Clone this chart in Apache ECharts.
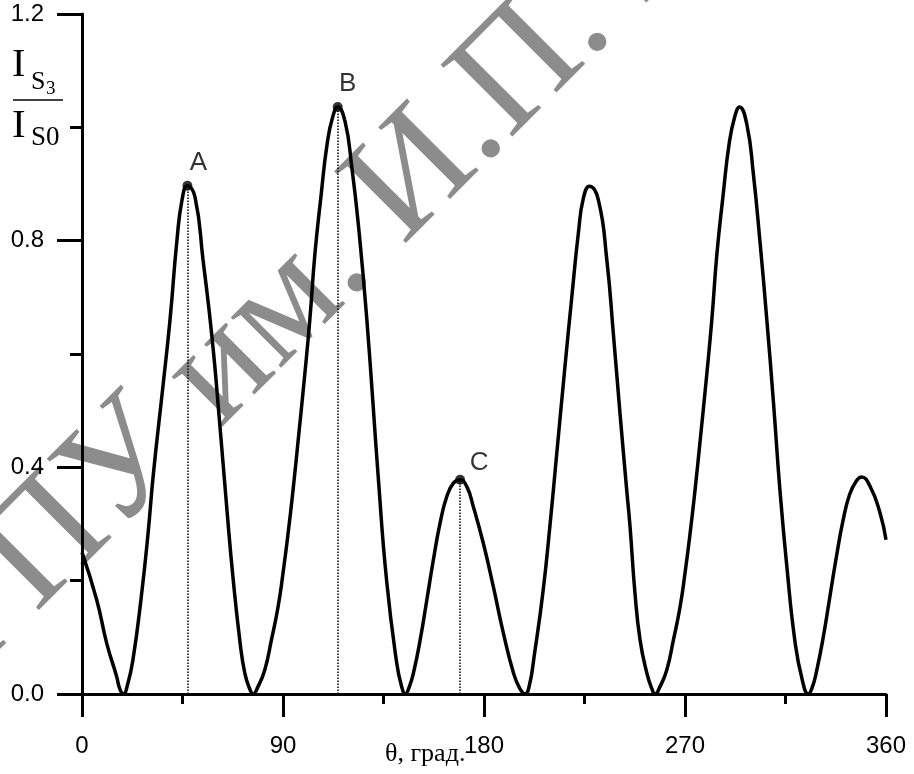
<!DOCTYPE html>
<html>
<head>
<meta charset="utf-8">
<script src="https://cdn.jsdelivr.net/npm/echarts@6/dist/echarts.min.js"></script>
<style>
  html, body { margin: 0; padding: 0; background: #fff; }
  #chart { width: 914px; height: 774px; }
</style>
</head>
<body>
<div id="chart"></div>
<script>
// angle θ (deg) and the ratio I_S3 / I_S0, one row per lobe
const theta = [
  0, 6.6, 11.1, 15.5, 17, 18.5,
  20.5, 22.8, 26.5, 29.5, 32, 36.3, 39.4, 42.5, 44.8, 47.2, 50.6, 54.2, 58.2, 61.8, 64.9, 67.6, 70.8, 72.9, 75, 76.6,
  78.8, 81.8, 84.8, 87.8, 90.0, 92.3, 94.5, 96.8, 99.5, 102, 104.3, 107, 109.8, 112.3, 114.5, 117.8, 120.8, 123.7, 127.5, 132.7, 136.4, 140.9, 143, 144.8,
  146.5, 148.4, 151.4, 154.4, 157.3, 160.3, 163.3, 166.3, 169.3, 172.3, 175.2, 179.7, 184.2, 188.7, 193.2, 196, 198.4,
  200.3, 202.4, 206.4, 209.6, 212, 216.3, 219.3, 222.3, 224.5, 227.2, 231.2, 235.0, 237.9, 240.9, 243.9, 245.4, 247.6, 249.9, 252.9, 255.1, 256.6,
  258.8, 261.8, 264.8, 267.8, 270.0, 272.3, 274.5, 276.8, 279.5, 282.0, 284.3, 287.0, 289.8, 292.3, 294.4, 297.7, 300.6, 303.6, 306.6, 309.6, 312.5, 315.6, 319.3, 322.5, 325.2,
  327, 328.9, 331.8, 334.8, 337.7, 340.7, 343.7, 346.7, 349.0, 352.8, 357.3, 360
]
const ratio = [
  0.25, 0.166, 0.089, 0.031, 0.008, 0,
  0.018, 0.06, 0.17, 0.28, 0.39, 0.545, 0.66, 0.80, 0.872, 0.897, 0.877, 0.766, 0.630, 0.471, 0.325, 0.206, 0.090, 0.037, 0.01, 0,
  0.013, 0.042, 0.095, 0.154, 0.213, 0.284, 0.360, 0.448, 0.554, 0.66, 0.777, 0.878, 0.972, 1.019, 1.036, 1.01, 0.93, 0.83, 0.663, 0.38, 0.2, 0.055, 0.015, 0,
  0.012, 0.037, 0.095, 0.166, 0.236, 0.301, 0.348, 0.372, 0.378, 0.366, 0.331, 0.266, 0.189, 0.107, 0.037, 0.01, 0,
  0.015, 0.065, 0.18, 0.30, 0.40, 0.58, 0.70, 0.815, 0.875, 0.896, 0.872, 0.766, 0.637, 0.495, 0.36, 0.295, 0.178, 0.095, 0.037, 0.010, 0,
  0.013, 0.042, 0.095, 0.154, 0.213, 0.284, 0.360, 0.448, 0.554, 0.66, 0.777, 0.878, 0.972, 1.019, 1.036, 1.005, 0.918, 0.797, 0.662, 0.515, 0.360, 0.225, 0.091, 0.025, 0,
  0.012, 0.04, 0.098, 0.17, 0.24, 0.305, 0.352, 0.376, 0.383, 0.367, 0.32, 0.272
]

// marked points
const peakNames = ['A', 'B', 'C']
const peakTheta = [47.2, 114.5, 169.3]
const peakRatio = [0.897, 1.036, 0.378]

const xTicks = [0, 90, 180, 270, 360]
const yTicks = [0.0, 0.4, 0.8, 1.2]

const chart = echarts.init(document.getElementById('chart'))

const sans = '"Liberation Sans", Arial, sans-serif'
const serif = '"Liberation Serif", "Times New Roman", serif'

const peakLabelOffset = [[11, 0], [10, 0], [19, 6]]

chart.setOption({
  animation: false,
  backgroundColor: '#fff',
  grid: { left: 82, right: 28, top: 14, bottom: 80, containLabel: false, outerBoundsMode: 'none' },
  xAxis: {
    type: 'value',
    min: xTicks[0],
    max: xTicks[xTicks.length - 1],
    interval: 90,
    axisLine: { lineStyle: { color: '#000', width: 3 } },
    axisTick: { length: 23, lineStyle: { color: '#000', width: 3 } },
    minorTick: { show: true, splitNumber: 2, length: 10, lineStyle: { color: '#000', width: 3 } },
    splitLine: { show: false },
    axisLabel: { margin: 40, color: '#000', fontSize: 24, fontFamily: sans },
  },
  yAxis: {
    type: 'value',
    min: yTicks[0],
    max: yTicks[yTicks.length - 1],
    interval: 0.4,
    axisLine: { lineStyle: { color: '#000', width: 3 } },
    axisTick: { length: 25, lineStyle: { color: '#000', width: 3 } },
    minorTick: { show: true, splitNumber: 2, length: 12, lineStyle: { color: '#000', width: 3 } },
    splitLine: { show: false },
    axisLabel: { margin: 38, color: '#000', fontSize: 24, fontFamily: sans, formatter: v => v.toFixed(1) },
  },
  graphic: [
    // scanned library watermark
    {
      type: 'text', x: -99, y: 800, rotation: Math.PI / 4, z: -10, silent: true,
      style: { text: 'МГПУ им. И.П. Шамякина', font: '155px ' + serif, fill: '#8c8c8c', textAlign: 'left', textVerticalAlign: 'bottom' },
    },
    // y axis title: I_S3 / I_S0
    { type: 'text', x: 12, y: 65, style: { text: 'I', font: '40px ' + serif, fill: '#000', textVerticalAlign: 'middle' } },
    { type: 'text', x: 31, y: 82, style: { text: 'S', font: '26px ' + serif, fill: '#000', textVerticalAlign: 'middle' } },
    { type: 'text', x: 46, y: 89, style: { text: '3', font: '19px ' + serif, fill: '#000', textVerticalAlign: 'middle' } },
    { type: 'line', shape: { x1: 13, y1: 100, x2: 63, y2: 100 }, style: { stroke: '#000', lineWidth: 1.5 } },
    { type: 'text', x: 12, y: 126, style: { text: 'I', font: '41px ' + serif, fill: '#000', textVerticalAlign: 'middle' } },
    { type: 'text', x: 31, y: 138, style: { text: 'S0', font: '27px ' + serif, fill: '#000', textVerticalAlign: 'middle' } },
    // x axis title
    { type: 'text', x: 385, y: 767, style: { text: 'θ, град.', font: '26px ' + serif, fill: '#000', textVerticalAlign: 'bottom' } },
  ],
  series: [
    {
      type: 'line',
      data: theta.map((t, i) => [t, ratio[i]]),
      smooth: 0.5,
      showSymbol: false,
      lineStyle: { color: '#000', width: 3.5 },
      z: 3,
    },
    {
      type: 'scatter',
      data: peakTheta.map((t, i) => ({
        value: [t, peakRatio[i]],
        label: { offset: peakLabelOffset[i] },
      })),
      symbolSize: 10,
      itemStyle: { color: '#000' },
      label: {
        show: true,
        position: 'top',
        distance: 5,
        color: '#000',
        fontSize: 26,
        fontFamily: sans,
        formatter: p => peakNames[p.dataIndex],
      },
      markLine: {
        silent: true,
        symbol: 'none',
        label: { show: false },
        lineStyle: { color: '#000', width: 1.5, type: 'dotted' },
        data: peakTheta.map((t, i) => [{ coord: [t, 0] }, { coord: [t, peakRatio[i]] }]),
      },
      z: 4,
    },
  ],
})
</script>
</body>
</html>
